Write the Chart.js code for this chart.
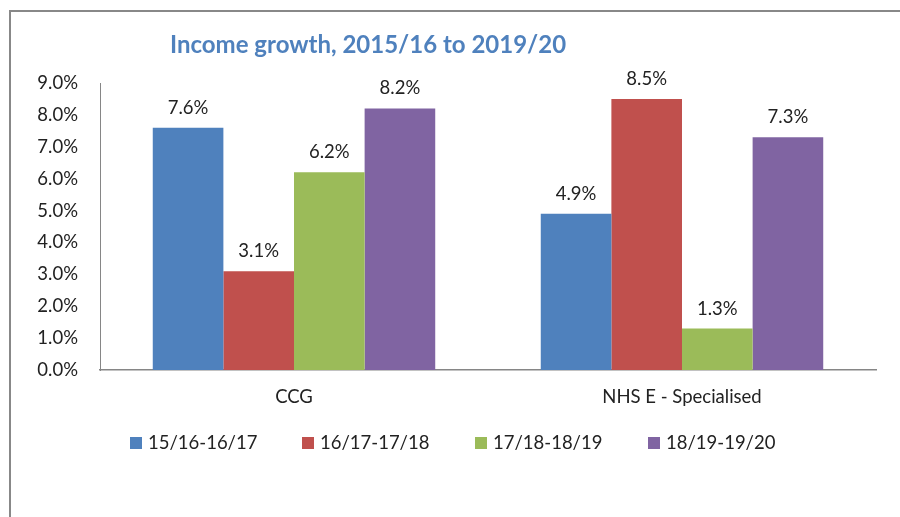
<!DOCTYPE html>
<html>
<head>
<meta charset="utf-8">
<script src="https://cdn.jsdelivr.net/npm/chart.js@4.4.1/dist/chart.umd.min.js"></script>
<style>
html,body{margin:0;padding:0;background:#fff;}
#wrap{position:relative;width:900px;height:517px;overflow:hidden;}
canvas{position:absolute;left:0;top:0;}
</style>
</head>
<body>
<div id="wrap"><canvas id="c" width="900" height="517"></canvas></div>
<script>
const titleText = 'Income growth, 2015/16 to 2019/20';
const categories = ['CCG', 'NHS E - Specialised'];
const seriesNames = ['15/16-16/17', '16/17-17/18', '17/18-18/19', '18/19-19/20'];
const s1516 = [7.6, 4.9];
const s1617 = [3.1, 8.5];
const s1718 = [6.2, 1.3];
const s1819 = [8.2, 7.3];
const yTicks = [0, 1, 2, 3, 4, 5, 6, 7, 8, 9];
const colors = ['#4f81bd', '#c0504d', '#9bbb59', '#8064a2'];

const FONT = 'Lato, "Open Sans", sans-serif';
const FS = 18.5;
const TXT = '#222222';
const AXIS = '#868686';

const frameAndTitle = {
  id: 'frameAndTitle',
  beforeDraw(chart) {
    const ctx = chart.ctx;
    ctx.save();
    ctx.fillStyle = '#fff';
    ctx.fillRect(0, 0, chart.width, chart.height);
    ctx.strokeStyle = '#888888';
    ctx.lineWidth = 2;
    ctx.beginPath();
    ctx.moveTo(10, 520);
    ctx.lineTo(10, 11);
    ctx.lineTo(905, 11);
    ctx.stroke();
    ctx.fillStyle = '#4f81bd';
    ctx.font = 'bold 24px ' + FONT;
    ctx.textAlign = 'left';
    ctx.textBaseline = 'middle';
    ctx.fillText(titleText, 170, 45);
    ctx.restore();
  },
  afterDatasetsDraw(chart) {
    const ctx = chart.ctx;
    ctx.save();
    ctx.fillStyle = TXT;
    ctx.font = FS + 'px ' + FONT;
    ctx.textAlign = 'center';
    ctx.textBaseline = 'middle';
    chart.data.datasets.forEach((ds, i) => {
      const meta = chart.getDatasetMeta(i);
      meta.data.forEach((bar, j) => {
        ctx.fillText(ds.data[j].toFixed(1) + '%', bar.x, bar.y - 20);
      });
    });
    // legend
    const legendY = 443;
    const starts = [130, 302, 475, 648];
    chart.data.datasets.forEach((ds, i) => {
      const x = starts[i];
      ctx.fillStyle = ds.backgroundColor;
      ctx.fillRect(x, legendY - 6, 12, 12);
      ctx.fillStyle = TXT;
      ctx.textAlign = 'left';
      ctx.fillText(ds.label, x + 18, legendY);
    });
    ctx.restore();
  }
};

const series = [s1516, s1617, s1718, s1819];
new Chart(document.getElementById('c'), {
  type: 'bar',
  data: {
    labels: categories,
    datasets: series.map((d, i) => ({
      label: seriesNames[i],
      data: d,
      backgroundColor: colors[i],
      borderWidth: 0,
      barPercentage: 1.0,
      categoryPercentage: 0.728
    }))
  },
  options: {
    responsive: false,
    animation: false,
    layout: { padding: { left: 0, right: 24, top: 83, bottom: 0 } },
    plugins: {
      legend: { display: false },
      title: { display: false },
      tooltip: { enabled: false }
    },
    scales: {
      x: {
        grid: { display: false, drawTicks: false },
        border: { display: true, color: AXIS, width: 1.5 },
        ticks: { color: TXT, font: { family: FONT, size: FS }, padding: 16 },
        afterFit(scale) { scale.height = 147; }
      },
      y: {
        min: 0, max: 9,
        afterBuildTicks(scale) { scale.ticks = yTicks.map(v => ({ value: v })); },
        grid: { display: false, drawTicks: false },
        border: { display: true, color: AXIS, width: 1 },
        ticks: {
          color: TXT, font: { family: FONT, size: FS }, padding: 22,
          callback: v => Number(v).toFixed(1) + '%'
        },
        afterFit(scale) { scale.width = 100; }
      }
    }
  },
  plugins: [frameAndTitle]
});
</script>
</body>
</html>
